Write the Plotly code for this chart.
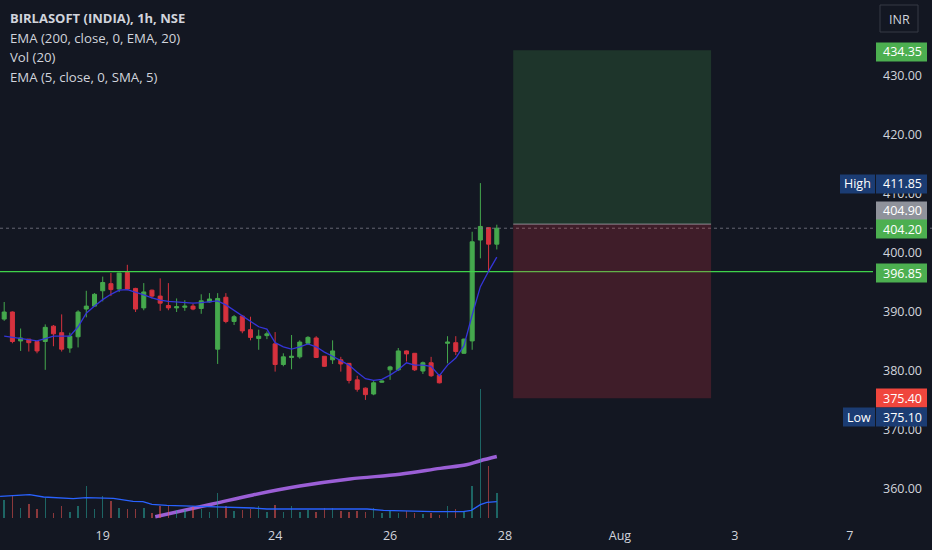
"""
BIRLASOFT (INDIA) 1h chart, TradingView-style dark theme, rebuilt in Plotly.
"""
import plotly.graph_objects as go

# ── Data ───────────────────────────────────────────────────────────────────
# bar index (hourly bars, 7 per session; 62 = first bar of the 28th)
bar_idx = list(range(1, 62))

opens = [388.8, 390.0, 385.1, 385.4, 385.0, 385.0, 387.6, 386.5, 383.9, 385.8,
         390.5, 391.0, 393.6, 394.8, 393.9, 396.7, 394.0, 390.7, 393.7, 392.7,
         391.1, 390.7, 390.8, 391.0, 390.6, 391.7, 383.7, 392.5, 388.4, 389.3,
         387.0, 385.5, 386.0, 384.6, 381.1, 382.3, 382.4, 384.7, 385.6, 382.5,
         381.9, 381.9, 381.3, 378.5, 377.1, 376.1, 378.1, 380.2, 380.2, 383.4,
         383.0, 380.0, 381.4, 379.3, 384.7, 384.8, 383.0, 385.1, 402.2, 404.3,
         401.5]
highs = [391.7, 390.1, 387.2, 385.4, 385.0, 387.9, 387.8, 389.6, 386.5, 390.3,
         393.6, 393.2, 396.0, 396.6, 396.6, 398.0, 394.1, 394.9, 393.8, 395.7,
         394.9, 392.3, 392.0, 391.4, 393.0, 393.2, 393.2, 393.2, 389.5, 389.5,
         389.2, 387.0, 386.7, 386.6, 383.0, 386.1, 385.2, 385.9, 385.9, 382.5,
         385.2, 382.4, 381.3, 379.2, 377.2, 378.3, 378.4, 380.9, 383.9, 383.5,
         383.0, 381.6, 382.4, 379.3, 385.9, 385.9, 385.5, 403.6, 411.85, 404.3,
         404.8]
lows = [388.5, 384.7, 383.4, 383.3, 383.0, 380.2, 384.2, 383.3, 383.1, 384.0,
        389.1, 390.9, 391.8, 392.7, 393.4, 393.7, 390.0, 390.3, 392.3, 390.2,
        390.3, 390.0, 390.2, 390.3, 389.7, 391.6, 381.2, 388.1, 387.8, 386.4,
        385.2, 383.6, 385.4, 379.9, 380.8, 380.3, 382.1, 384.4, 382.2, 380.7,
        381.2, 379.9, 377.9, 376.5, 375.1, 375.9, 378.0, 378.5, 380.0, 381.6,
        380.0, 379.5, 379.0, 377.9, 381.3, 382.7, 382.9, 383.6, 399.1, 396.8,
        400.6]
closes = [390.0, 385.0, 385.6, 384.8, 383.4, 387.4, 386.3, 383.7, 385.9, 390.0,
          391.0, 393.0, 395.0, 393.8, 396.6, 393.9, 390.5, 393.4, 392.7, 391.5,
          390.7, 390.9, 391.0, 390.5, 391.9, 392.2, 392.3, 388.4, 389.2, 386.8,
          385.7, 385.9, 386.3, 381.1, 382.4, 382.5, 384.9, 385.7, 382.3, 380.8,
          383.4, 381.2, 378.4, 376.9, 376.0, 378.0, 378.3, 380.7, 383.4, 382.9,
          380.2, 381.4, 379.2, 378.0, 384.9, 383.3, 385.4, 401.9, 404.5, 401.5,
          404.2]

ema5 = [385.9, 385.7, 385.5, 385.2, 385.1, 385.5, 385.9, 385.9, 385.9, 387.5,
        389.8, 391.0, 392.1, 393.0, 393.7, 393.8, 393.4, 392.9, 392.4, 392.0,
        391.8, 391.7, 391.6, 391.5, 391.6, 391.75, 391.9, 391.2, 390.3, 389.4,
        388.5, 387.5, 387.1, 384.8, 384.1, 383.7, 384.1, 384.6, 384.1, 383.2,
        382.5, 381.8, 381.0, 379.8, 378.7, 378.4, 378.6, 379.3, 380.2, 381.4,
        381.0, 381.0, 380.8, 379.2, 381.0, 382.2, 384.3, 389.5, 394.3, 396.9,
        399.3]

# EMA 200 (smoothed) read at these bar positions
ema200_idx = [19.4, 26.5, 31.3, 37.0, 43.1, 49.2, 54.1, 57.3, 59.0, 61.0]
ema200 = [355.3, 357.5, 359.0, 360.5, 361.7, 362.5, 363.5, 364.1, 364.8, 365.5]

# volume (thousands) and its 20-bar average
volume = [55, 65, 30, 43, 27, 60, 15, 37, 17, 35, 97, 27, 67, 50, 30, 27, 27, 30,
          15, 37, 37, 25, 23, 37, 27, 17, 75, 35, 20, 25, 27, 37, 17, 39, 17, 37,
          17, 25, 17, 30, 30, 20, 17, 20, 17, 30, 15, 20, 15, 20, 15, 13, 15, 10,
          37, 27, 20, 97, 387, 157, 75]
vol_ma_idx = [0.5, 4.1, 5.8, 9.4, 11, 14.3, 16.7, 17.9, 19, 20.8, 24.8, 26.5,
              28.9, 31.3, 33, 45.2, 47.2, 53.3, 56.9, 57.9, 59, 59.8, 61]
vol_ma = [65, 70, 63, 58, 61, 59, 50, 49, 41, 38, 35, 34, 33, 30, 27, 27, 23,
          19, 19, 23, 40, 47, 49]

# horizontal level, current price and long-position tool
level_price = 396.85
last_price = 404.20
entry_price = 404.90
target_price = 434.35
stop_price = 375.40
position_start, position_end = 63.0, 87.1

day_ticks = [13, 34, 48, 62, 76, 90, 104]
day_labels = ["19", "24", "26", "28", "Aug", "3", "7"]

# ── Styling ────────────────────────────────────────────────────────────────
BG = "#131722"
TEXT = "#d1d4dc"
UP = "#45a84d"
DOWN = "#d6323e"
FONT = "Open Sans"
W, H = 932, 550
PANE_RIGHT = 873      # px where price scale starts
PANE_BOTTOM = 520     # px where time scale starts
X_RANGE = [0.49, 106.82]


def px_x(x):
    return x / W


def px_y(y):
    return 1 - y / H


def label(fig, x, y, text, size=12.5, color="#ffffff", anchor="center"):
    """Paper-anchored text placed by pixel position."""
    fig.add_annotation(xref="paper", yref="paper", x=px_x(x), y=px_y(y),
                       text=text, showarrow=False, xanchor=anchor,
                       yanchor="middle", font=dict(size=size, color=color,
                                                   family=FONT))


fig = go.Figure()

# volume bars on their own overlay scale
vol_colors = ["rgba(38,166,154,0.55)" if c >= o else "rgba(239,83,80,0.55)"
              for o, c in zip(opens, closes)]
fig.add_trace(go.Bar(x=bar_idx, y=volume, marker_color=vol_colors, width=0.18,
                     marker_line_width=0, yaxis="y2", showlegend=False))
fig.add_trace(go.Scatter(x=vol_ma_idx, y=vol_ma, mode="lines", yaxis="y2",
                         line=dict(color="#2962ff", width=1.3), showlegend=False))

# horizontal level (drawn as a trace so the position boxes tint it)
fig.add_trace(go.Scatter(x=X_RANGE, y=[level_price, level_price], mode="lines",
                         line=dict(color="#3fd14a", width=1.4), showlegend=False,
                         hoverinfo="skip"))
# last price line
fig.add_shape(type="line", xref="paper", x0=0, x1=1, y0=last_price,
              y1=last_price, line=dict(color="rgba(120,123,134,0.8)", width=1,
                                       dash="dot"))

fig.add_trace(go.Candlestick(
    x=bar_idx, open=opens, high=highs, low=lows, close=closes,
    increasing=dict(line=dict(color=UP, width=1), fillcolor=UP),
    decreasing=dict(line=dict(color=DOWN, width=1), fillcolor=DOWN),
    whiskerwidth=0, showlegend=False,
))
fig.add_trace(go.Scatter(x=bar_idx, y=ema5, mode="lines",
                         line=dict(color="#3535d8", width=1.3), showlegend=False))
fig.add_trace(go.Scatter(x=ema200_idx, y=ema200, mode="lines",
                         line=dict(color="#9b5fd6", width=3.5, shape="spline"),
                         showlegend=False))

# position tool: reward / risk zones, on top of the level line
fig.add_shape(type="rect", x0=position_start, x1=position_end, y0=entry_price,
              y1=target_price, fillcolor="rgba(76,175,80,0.2)", line_width=0,
              layer="above")
fig.add_shape(type="rect", x0=position_start, x1=position_end, y0=stop_price,
              y1=entry_price, fillcolor="rgba(242,54,69,0.2)", line_width=0,
              layer="above")
fig.add_shape(type="line", x0=position_start, x1=position_end, y0=entry_price,
              y1=entry_price, line=dict(color="rgba(180,182,190,0.7)", width=1))

# ── Layout ────────────────────────────────────────────────────────────────
fig.update_layout(
    width=W, height=H,
    margin=dict(l=0, r=0, t=0, b=0),
    paper_bgcolor=BG, plot_bgcolor=BG,
    font=dict(family=FONT, color=TEXT, size=12),
    boxgap=0.3,
    xaxis=dict(domain=[0, PANE_RIGHT / W], range=X_RANGE,
               tickvals=day_ticks, ticktext=day_labels, showgrid=False,
               zeroline=False, showline=False, rangeslider=dict(visible=False),
               ticks="", ticklabelstandoff=6, tickfont=dict(size=12.5),
               fixedrange=True, showspikes=False),
    yaxis=dict(domain=[1 - PANE_BOTTOM / H, 1], range=[354.75, 442.88],
               side="right", tickvals=[360, 370, 380, 390, 400, 410, 420, 430],
               tickformat=".2f", showgrid=False, zeroline=False, showline=False,
               ticks="", ticklabelstandoff=9, tickfont=dict(size=12.5),
               showspikes=False),
    yaxis2=dict(domain=[1 - PANE_BOTTOM / H, 1], overlaying="y",
                range=[-6, 1554], visible=False, showgrid=False),
    bargap=0,
    hovermode=False,
)

# legend lines, top-left
legend_lines = ["BIRLASOFT (INDIA), 1h, NSE", "EMA (200, close, 0, EMA, 20)",
                "Vol (20)", "EMA (5, close, 0, SMA, 5)"]
for i, txt in enumerate(legend_lines):
    label(fig, 8, 18 + i * 19.6, f"<b>{txt}</b>" if i == 0 else txt,
          size=13 if i == 0 else 13.2, color=TEXT, anchor="left")

# currency button
fig.add_shape(type="rect", xref="paper", yref="paper", x0=px_x(880), x1=px_x(918),
              y0=px_y(32), y1=px_y(5), line=dict(color="#363a45", width=1),
              fillcolor=BG)
label(fig, 899, 19, "INR", color=TEXT)

# price-scale labels: (price text, centre px, background)
scale_labels = [
    (f"{target_price:.2f}", 52, "#4caf50"),
    ("411.85", 184, "#1b3c73"),
    (f"{entry_price:.2f}", 211, "#8f929b"),
    (f"{last_price:.2f}", 229, "#4caf50"),
    (f"{level_price:.2f}", 273, "#4caf50"),
    (f"{stop_price:.2f}", 398, "#f0463d"),
    ("375.10", 417, "#1b3c73"),
]
for txt, yc, bg in scale_labels:
    fig.add_shape(type="rect", xref="paper", yref="paper", x0=px_x(876),
                  x1=px_x(927), y0=px_y(yc + 9.5), y1=px_y(yc - 9.5),
                  fillcolor=bg, line_width=0)
    label(fig, 902, yc, txt)

# High / Low tags left of the scale
for txt, yc, x0 in [("High", 184, 840), ("Low", 417, 843)]:
    fig.add_shape(type="rect", xref="paper", yref="paper", x0=px_x(x0),
                  x1=px_x(875), y0=px_y(yc + 9.5), y1=px_y(yc - 9.5),
                  fillcolor="#1b3c73", line_width=0)
    label(fig, (x0 + 875) / 2, yc, txt)

# page body has a default 8px margin; drop it so the figure fills the window
fig.write_html("out.html", config={"displayModeBar": False},
               post_script="document.body.style.margin='0';")
